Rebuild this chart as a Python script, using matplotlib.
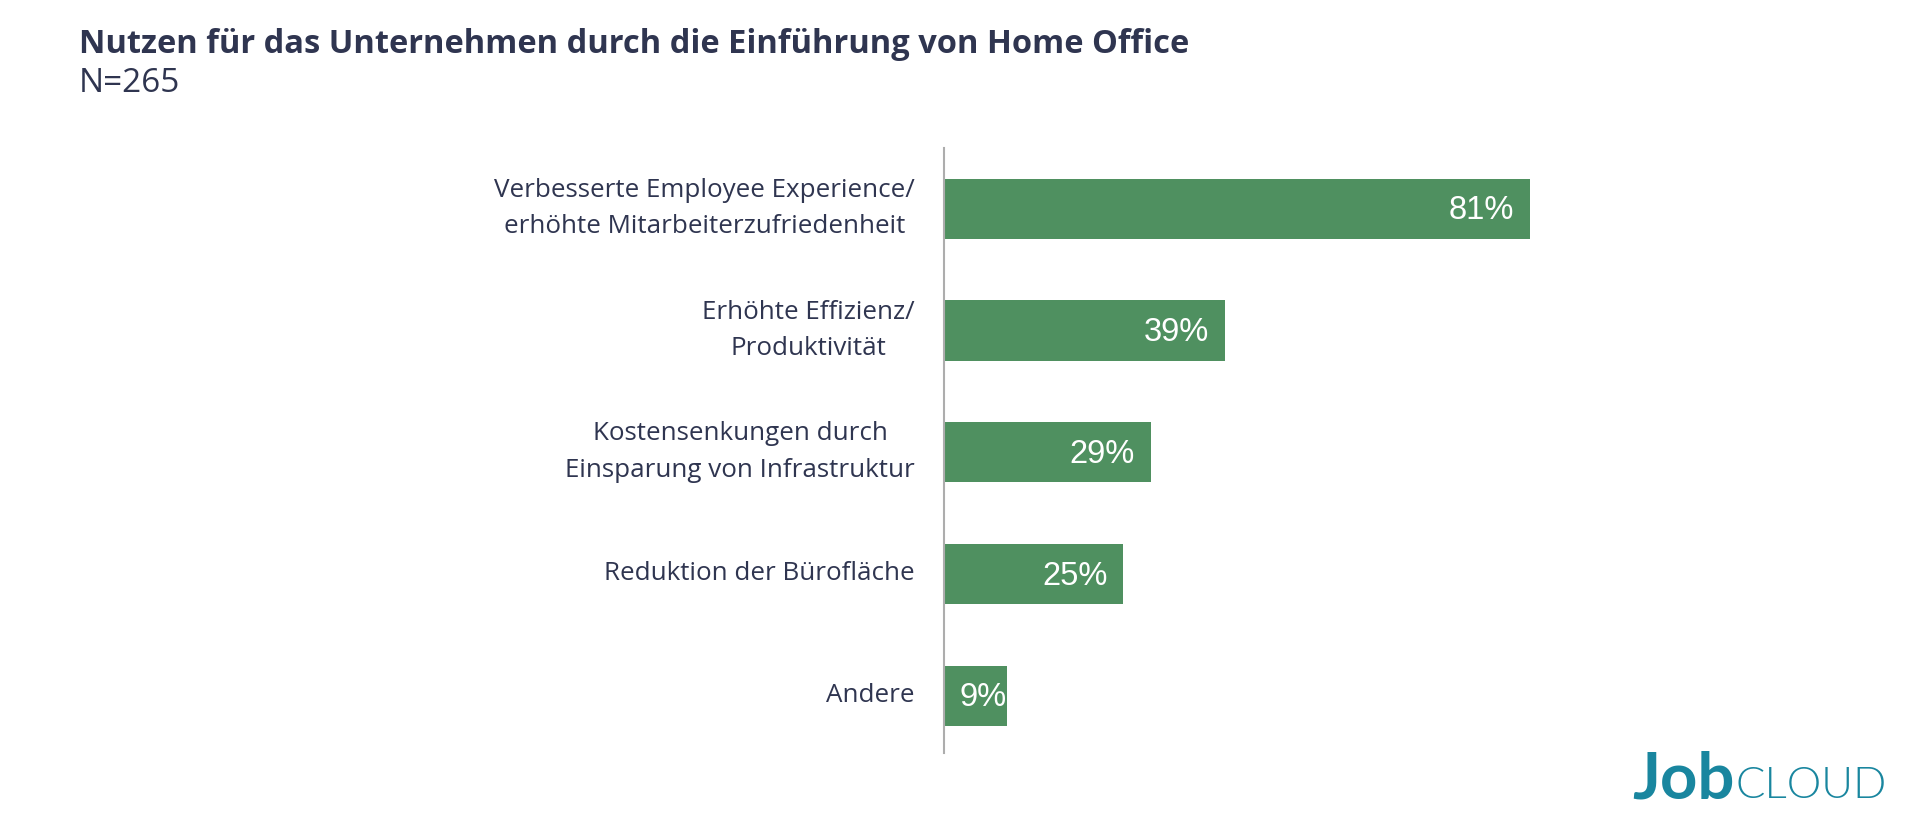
import matplotlib
matplotlib.use("Agg")
import matplotlib.pyplot as plt
from matplotlib.transforms import ScaledTranslation

categories = [
    "Verbesserte Employee Experience/\nerhöhte Mitarbeiterzufriedenheit",
    "Erhöhte Effizienz/\nProduktivität",
    "Kostensenkungen durch\nEinsparung von Infrastruktur",
    "Reduktion der Bürofläche",
    "Andere",
]
values = [81, 38.8, 28.6, 24.8, 8.7]
value_labels = ["81%", "39%", "29%", "25%", "9%"]
title = "Nutzen für das Unternehmen durch die Einführung von Home Office"
subtitle = "N=265"

W, H = 1910, 830
DARK = "#2f3550"
GREEN = "#4f9060"
TEAL = "#19869f"

plt.rcParams["font.family"] = ["Open Sans", "DejaVu Sans"]

fig = plt.figure(figsize=(W / 100, H / 100), dpi=100, facecolor="white")
ax = fig.add_axes([944 / W, (H - 753) / H, (1530 - 944) / W, 605 / H])

positions = list(range(len(values)))
ax.barh(positions, values, height=0.495, color=GREEN)
ax.set_xlim(0, 81)
ax.set_ylim(len(values) - 0.53, -0.5)

ax.set_yticks(positions)
ax.set_yticklabels(categories, fontsize=18.7, color=DARK, linespacing=1.6, multialignment="center")
ax.tick_params(axis="y", length=0, pad=21)
ax.set_xticks([])

# two-line labels sit a bit high next to their bars
for lab in ax.get_yticklabels():
    shift = 6.5 if "\n" in lab.get_text() else 2.5
    lab.set_transform(lab.get_transform() + ScaledTranslation(0, shift / 72, fig.dpi_scale_trans))

for side in ["top", "right", "bottom"]:
    ax.spines[side].set_visible(False)
ax.spines["left"].set_color("#adadad")
ax.spines["left"].set_linewidth(1.5)

# value labels sit inside the bar end, the last one has no room for padding
for pos, val, lab in zip(positions, values, value_labels):
    pad = -16 if val > 10 else 0
    ax.annotate(lab, xy=(val, pos), xytext=(pad * 0.72, -1.5), textcoords="offset points",
                ha="right", va="center", color="white", fontsize=23.5, family="Liberation Sans")

fig.text(79 / W, 1 - 53 / H, title, fontsize=23.5, fontweight="bold", color=DARK, va="baseline")
fig.text(79 / W, 1 - 92 / H, subtitle, fontsize=24, color=DARK, va="baseline")

# logo
fig.text(1632 / W, 1 - 798 / H, "Job", fontsize=47, fontweight="bold", color=TEAL, va="baseline", family="Lato")
fig.text(1735 / W, 1 - 798 / H, "CLOUD", fontsize=31.5, fontweight=300, color=TEAL, va="baseline", family="Lato")

fig.savefig("out.png", dpi=100)
